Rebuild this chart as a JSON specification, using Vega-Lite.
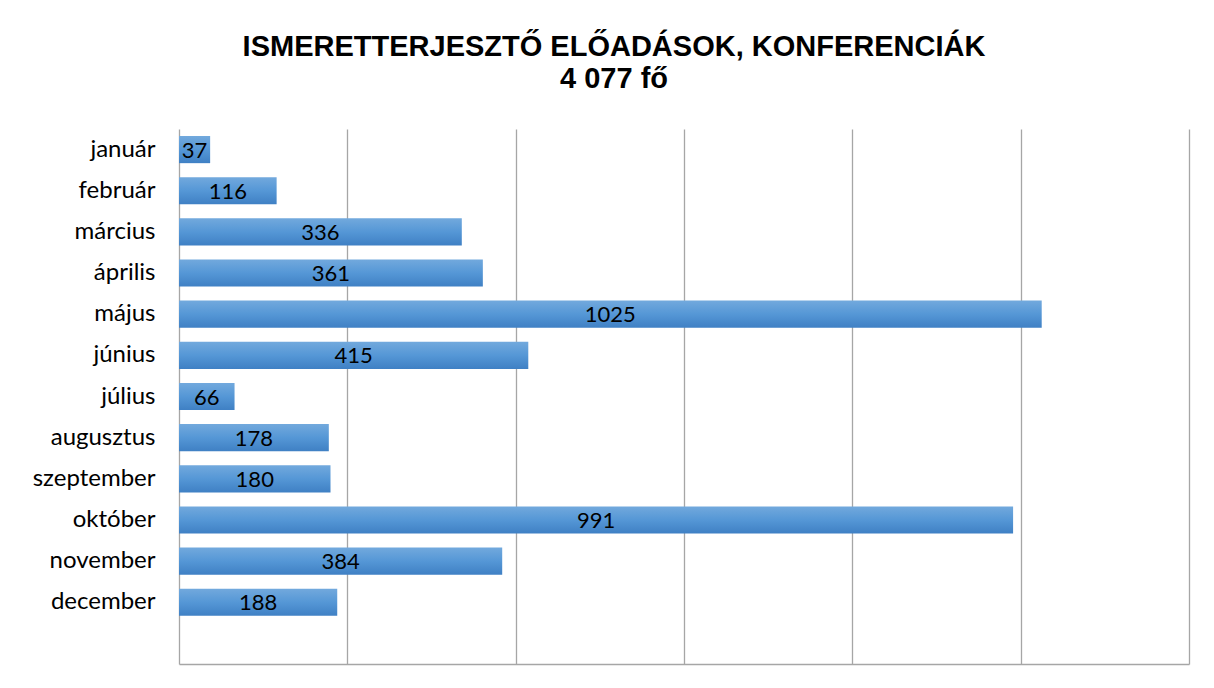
{
  "$schema": "https://vega.github.io/schema/vega-lite/v6.json",
  "width": 1010,
  "height": 535,
  "autosize": {"type": "none"},
  "padding": {"left": 179, "top": 129, "right": 25, "bottom": 24},
  "background": "white",
  "title": {
    "text": ["ISMERETTERJESZTŐ ELŐADÁSOK, KONFERENCIÁK", "4 077 fő"],
    "font": "Liberation Sans",
    "fontSize": 29,
    "fontWeight": "bold",
    "lineHeight": 32,
    "color": "#000000",
    "anchor": "middle",
    "frame": "group",
    "dx": -70,
    "offset": 35
  },
  "data": {
    "values": [
      {"month": "január", "value": 37},
      {"month": "február", "value": 116},
      {"month": "március", "value": 336},
      {"month": "április", "value": 361},
      {"month": "május", "value": 1025},
      {"month": "június", "value": 415},
      {"month": "július", "value": 66},
      {"month": "augusztus", "value": 178},
      {"month": "szeptember", "value": 180},
      {"month": "október", "value": 991},
      {"month": "november", "value": 384},
      {"month": "december", "value": 188}
    ]
  },
  "config": {
    "view": {"stroke": null},
    "font": "Lato"
  },
  "encoding": {
    "y": {
      "field": "month",
      "type": "nominal",
      "sort": null,
      "scale": {
        "domain": ["január", "február", "március", "április", "május", "június", "július", "augusztus", "szeptember", "október", "november", "december", " "],
        "paddingInner": 0.34,
        "paddingOuter": 0.17
      },
      "axis": {
        "title": null,
        "ticks": false,
        "domain": false,
        "labelFont": "Lato",
        "labelFontSize": 24,
        "labelColor": "#000000",
        "labelPadding": 24,
        "grid": false
      }
    }
  },
  "layer": [
    {
      "mark": {
        "type": "bar",
        "color": {
          "gradient": "linear",
          "x1": 0, "y1": 0, "x2": 0, "y2": 1,
          "stops": [
            {"offset": 0, "color": "#72a9dd"},
            {"offset": 0.5, "color": "#5597d6"},
            {"offset": 1, "color": "#3f80c4"}
          ]
        }
      },
      "encoding": {
        "x": {
          "field": "value",
          "type": "quantitative",
          "scale": {"domain": [0, 1200], "nice": false},
          "axis": {
            "title": null,
            "labels": false,
            "ticks": false,
            "values": [0, 200, 400, 600, 800, 1000, 1200],
            "grid": true,
            "gridColor": "#a6a6a6",
            "gridWidth": 1.3,
            "domain": true,
            "domainColor": "#a6a6a6",
            "domainWidth": 1.3
          }
        }
      }
    },
    {
      "mark": {"type": "rule", "color": "#a6a6a6", "strokeWidth": 1.3},
      "encoding": {
        "x": {"datum": 0, "type": "quantitative"}
      }
    },
    {
      "mark": {"type": "text", "fontSize": 22, "font": "Lato", "color": "#000000", "baseline": "middle", "align": "center", "dy": 1},
      "encoding": {
        "x": {"field": "mid", "type": "quantitative"},
        "text": {"field": "value", "type": "quantitative"}
      },
      "transform": [{"calculate": "datum.value / 2", "as": "mid"}]
    }
  ]
}
